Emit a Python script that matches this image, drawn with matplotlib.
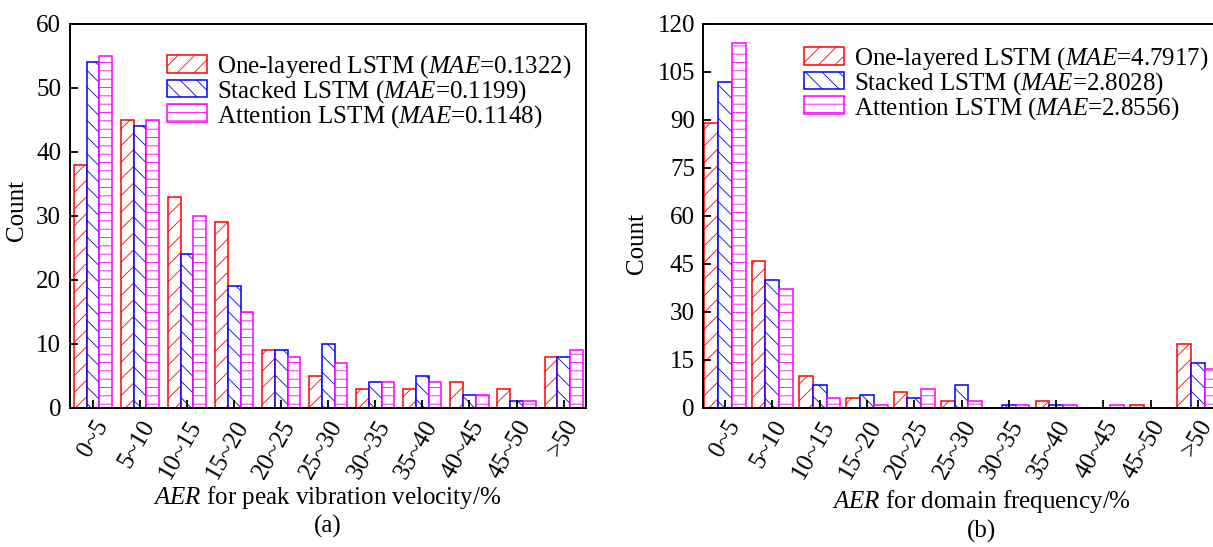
import numpy as np
import matplotlib
matplotlib.use('Agg')
import matplotlib.pyplot as plt

plt.rcParams['font.family'] = 'Liberation Serif'
plt.rcParams['mathtext.fontset'] = 'custom'
plt.rcParams['mathtext.rm'] = 'Liberation Serif'
plt.rcParams['mathtext.it'] = 'Liberation Serif:italic'
plt.rcParams['hatch.linewidth'] = 0.6

cats = ['0~5', '5~10', '10~15', '15~20', '20~25', '25~30', '30~35',
        '35~40', '40~45', '45~50', '>50']

# (a) peak vibration velocity
pv_one = [38, 45, 33, 29, 9, 5, 3, 3, 4, 3, 8]
pv_stacked = [54, 44, 24, 19, 9, 10, 4, 5, 2, 1, 8]
pv_att = [55, 45, 30, 15, 8, 7, 4, 4, 2, 1, 9]
pv_mae = ['0.1322', '0.1199', '0.1148']

# (b) domain frequency
df_one = [89, 46, 10, 3, 5, 2, 0, 2, 0, 1, 20]
df_stacked = [102, 40, 7, 4, 3, 7, 1, 1, 0, 0, 14]
df_att = [114, 37, 3, 1, 6, 2, 1, 1, 1, 0, 12]
df_mae = ['4.7917', '2.8028', '2.8556']

names = ['One-layered LSTM', 'Stacked LSTM', 'Attention LSTM']
colors = ['#ff0000', '#0000ff', '#ff00ff']
hatches = ['//', '\\\\', '--']

FS = 18
W, H = 1213, 547
fig = plt.figure(figsize=(W / 100, H / 100), dpi=100)


def panel(rect, series, mae, ymax, ystep, xlim, bw, xlabel, tag, xlab_x,
          xlab_y, tag_y, leg_xy, ylab_xy):
    ax = fig.add_axes(rect)
    x = np.arange(len(cats))
    for k, vals in enumerate(series):
        ax.bar(x + (k - 1) * bw, vals, bw, facecolor='white',
               edgecolor=colors[k], hatch=hatches[k], linewidth=1.1,
               label=names[k] + ' ($\\mathit{MAE}$=' + mae[k] + ')')
    ax.set_xlim(*xlim)
    ax.set_ylim(0, ymax)
    ax.set_yticks(np.arange(0, ymax + 1, ystep))
    ax.set_xticks(x)
    ax.set_xticklabels(cats, rotation=60, ha='right', va='top',
                       rotation_mode='anchor')
    ax.tick_params(direction='in', length=6, width=1.3, labelsize=FS,
                   top=False, right=False, pad=6)
    for s in ax.spines.values():
        s.set_linewidth(1.4)
    ax.set_ylabel('Count', fontsize=FS)
    ax.yaxis.set_label_coords(*ylab_xy)
    ax.text(xlab_x, xlab_y, '$\\mathit{AER}$ ' + xlabel, fontsize=FS,
            ha='center', va='center', transform=ax.transAxes)
    ax.text(xlab_x, tag_y, tag, fontsize=FS,
            ha='center', va='center', transform=ax.transAxes)
    ax.legend(loc='upper left', bbox_to_anchor=leg_xy,
              bbox_transform=fig.transFigure, frameon=False, fontsize=FS,
              borderpad=0, borderaxespad=0, handlelength=1.6,
              handleheight=0.72, handletextpad=0.4, labelspacing=-0.08)
    return ax


bot = (H - 407.7) / H
hgt = (407.7 - 24) / H

panel([69.5 / W, bot, 516.2 / W, hgt], [pv_one, pv_stacked, pv_att], pv_mae,
      60, 10, (-0.5, 10.47), 0.27, 'for peak vibration velocity/%', '(a)',
      0.5, -0.233, -0.31, (167 / W, 1 - 53 / H), (-0.08, 0.515))

panel([703.3 / W, bot, 518.4 / W, hgt], [df_one, df_stacked, df_att], df_mae,
      120, 15, (-0.46, 10.5), 0.29, 'for domain frequency/%', '(b)',
      0.537, -0.245, -0.323, (804 / W, 1 - 45 / H), (-0.107, 0.427))

fig.savefig('out.png', dpi=100)
